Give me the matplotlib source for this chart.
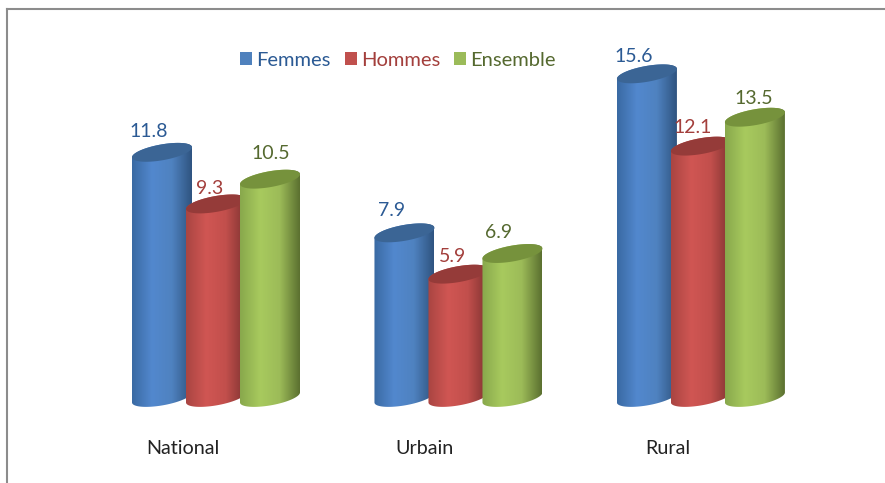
import matplotlib
matplotlib.use("Agg")
import matplotlib.pyplot as plt
import numpy as np
from matplotlib.colors import LinearSegmentedColormap
from matplotlib.patches import Patch, PathPatch
from matplotlib.path import Path

W, H = 885, 483

categories = ["National", "Urbain", "Rural"]
series = ["Femmes", "Hommes", "Ensemble"]
femmes = [11.8, 7.9, 15.6]
hommes = [9.3, 5.9, 12.1]
ensemble = [10.5, 6.9, 13.5]

# (shades left to right, top ellipse, legend square, text colour)
STYLES = [
    (["#3a6aa3", "#5288ce", "#4f82c0", "#2f5480"], "#3b6595", "#4f81bd", "#2b5a94"),
    (["#a94542", "#d05653", "#c24f4c", "#7f3331"], "#953b39", "#c0504d", "#a33f3c"),
    (["#88a84c", "#a8ca5e", "#9cbb58", "#5b7030"], "#76923c", "#9bbb59", "#55692f"),
]

# layout, in pixels of the figure
PX_PER_X = 54.0
PX_PER_Y = 20.65
GROUP_STEP = 4.49
X0_PX, Y0_PX = 216.0, 396.0
# label offsets from the top of each bar: one row per series, one column per group
LABEL_DX = [(-13, -13, -13), (-6, -6, -8), (1, -14, -1)]
LABEL_DY = [(21, 22, 17), (15, 18, 19), (26, 21, 19)]


def ellipse_pts(cx, cy, t):
    # tilted ellipse, right end higher than the left one
    x = cx + (30 / PX_PER_X) * np.cos(t)
    y = cy + (5 * np.cos(t) + 8 * np.sin(t)) / PX_PER_Y
    return x, y


def draw_cylinder(ax, cx, val, shades, top_color, z):
    base = -0.07
    # t runs over the lower half of the bottom rim, then the upper half of the top
    t_low = np.linspace(np.pi, 2 * np.pi, 60)
    t_high = np.linspace(0, np.pi, 60)
    xb, yb = ellipse_pts(cx, base, t_low)
    xt, yt = ellipse_pts(cx, val, t_high)
    verts = np.column_stack([np.r_[xb, xt, xb[0]], np.r_[yb, yt, yb[0]]])
    outline = PathPatch(Path(verts, closed=True), fc="none", ec="none", zorder=z)
    ax.add_patch(outline)
    cmap = LinearSegmentedColormap.from_list("cyl", shades)
    im = ax.imshow(np.linspace(0, 1, 128)[None, :], cmap=cmap, aspect="auto",
                   extent=[cx - 30 / PX_PER_X, cx + 30 / PX_PER_X, base - 1, val + 1],
                   zorder=z, interpolation="bilinear")
    im.set_clip_path(outline)

    t = np.linspace(0, 2 * np.pi, 120)
    xe, ye = ellipse_pts(cx, val, t)
    ax.fill(xe, ye, color=top_color, lw=0, zorder=z + 0.1)


def main():
    plt.rcParams["font.family"] = ["Lato", "DejaVu Sans"]
    fig = plt.figure(figsize=(W / 100, H / 100), dpi=100)
    ax = fig.add_axes([0, 0, 1, 1])
    ax.axis("off")
    to_x = 1 / PX_PER_X
    to_y = 1 / PX_PER_Y

    z = 2
    for s, values in enumerate([femmes, hommes, ensemble]):
        shades, top_color, _, text_color = STYLES[s]
        for g, val in enumerate(values):
            cx = g * GROUP_STEP + (s - 1)
            draw_cylinder(ax, cx, val, shades, top_color, z)
            ax.text(cx + LABEL_DX[s][g] * to_x, val + LABEL_DY[s][g] * to_y, f"{val:.1f}",
                    color=text_color, fontsize=14, ha="center", va="center", zorder=10)
            z += 1

    for g, name in enumerate(categories):
        ax.text(g * GROUP_STEP - 33.5 * to_x, -52 * to_y, name, color="#222222",
                fontsize=14.2, ha="center", va="center")

    handles = [Patch(fc=st[2], ec="none") for st in STYLES]
    fig.legend(handles, series, loc="center", bbox_to_anchor=(398 / W, 1 - 60 / H),
               ncols=3, frameon=False, fontsize=14.5, handlelength=0.6, handleheight=0.6,
               handletextpad=0.22, columnspacing=0.68, labelcolor=[st[3] for st in STYLES])

    # chart frame
    ax.plot([(6.5 - X0_PX) * to_x] * 2, [-(H - Y0_PX) * to_y, (Y0_PX - 9) * to_y],
            color="#8c8c8c", lw=1.5, solid_capstyle="projecting", zorder=1)
    ax.plot([(6.5 - X0_PX) * to_x, (W - X0_PX) * to_x], [(Y0_PX - 9) * to_y] * 2,
            color="#8c8c8c", lw=1.5, solid_capstyle="projecting", zorder=1)

    ax.set_xlim(-X0_PX / PX_PER_X, (W - X0_PX) / PX_PER_X)
    ax.set_ylim(-(H - Y0_PX) / PX_PER_Y, Y0_PX / PX_PER_Y)
    fig.savefig("out.png", dpi=100)


if __name__ == "__main__":
    main()
